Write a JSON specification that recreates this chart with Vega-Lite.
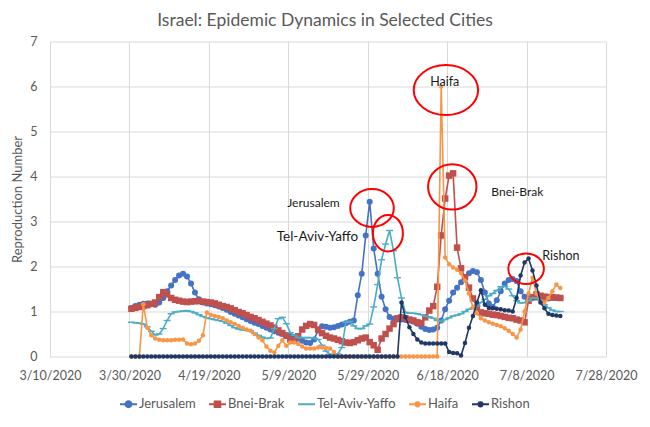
{
  "$schema": "https://vega.github.io/schema/vega-lite/v6.json",
  "width": 556,
  "height": 315,
  "autosize": "none",
  "padding": {"left": 50, "top": 41.5, "right": 44, "bottom": 70.5},
  "background": "white",
  "title": {"text": "Israel: Epidemic Dynamics in Selected Cities", "font": "Lato", "fontSize": 17.5, "fontWeight": "normal", "color": "#595959", "anchor": "middle", "frame": "group", "offset": 6, "dx": -3},
  "datasets": {
    "series": [
      {"d":"2020/03/30 12:00","Jerusalem":1.08,"BneiBrak":1.06,"TelAviv":0.76,"Haifa":0,"Rishon":0},
      {"d":"2020/03/31 12:00","Jerusalem":1.12,"BneiBrak":1.08,"TelAviv":0.75,"Haifa":0,"Rishon":0},
      {"d":"2020/04/01 12:00","Jerusalem":1.15,"BneiBrak":1.1,"TelAviv":0.74,"Haifa":0,"Rishon":0},
      {"d":"2020/04/02 12:00","Jerusalem":1.17,"BneiBrak":1.12,"TelAviv":0.72,"Haifa":1.16,"Rishon":0},
      {"d":"2020/04/03 12:00","Jerusalem":1.18,"BneiBrak":1.14,"TelAviv":0.66,"Haifa":0.64,"Rishon":0},
      {"d":"2020/04/04 12:00","Jerusalem":1.16,"BneiBrak":1.17,"TelAviv":0.56,"Haifa":0.47,"Rishon":0},
      {"d":"2020/04/05 12:00","Jerusalem":1.15,"BneiBrak":1.2,"TelAviv":0.48,"Haifa":0.4,"Rishon":0},
      {"d":"2020/04/06 12:00","Jerusalem":1.2,"BneiBrak":1.32,"TelAviv":0.5,"Haifa":0.37,"Rishon":0},
      {"d":"2020/04/07 12:00","Jerusalem":1.3,"BneiBrak":1.43,"TelAviv":0.62,"Haifa":0.36,"Rishon":0},
      {"d":"2020/04/08 12:00","Jerusalem":1.45,"BneiBrak":1.38,"TelAviv":0.8,"Haifa":0.36,"Rishon":0},
      {"d":"2020/04/09 12:00","Jerusalem":1.58,"BneiBrak":1.3,"TelAviv":0.95,"Haifa":0.36,"Rishon":0},
      {"d":"2020/04/10 12:00","Jerusalem":1.7,"BneiBrak":1.26,"TelAviv":0.99,"Haifa":0.37,"Rishon":0},
      {"d":"2020/04/11 12:00","Jerusalem":1.8,"BneiBrak":1.24,"TelAviv":1.0,"Haifa":0.37,"Rishon":0},
      {"d":"2020/04/12 12:00","Jerusalem":1.84,"BneiBrak":1.22,"TelAviv":1.01,"Haifa":0.38,"Rishon":0},
      {"d":"2020/04/13 12:00","Jerusalem":1.78,"BneiBrak":1.21,"TelAviv":1.02,"Haifa":0.29,"Rishon":0},
      {"d":"2020/04/14 12:00","Jerusalem":1.62,"BneiBrak":1.22,"TelAviv":1.0,"Haifa":0.27,"Rishon":0},
      {"d":"2020/04/15 12:00","Jerusalem":1.42,"BneiBrak":1.23,"TelAviv":0.97,"Haifa":0.29,"Rishon":0},
      {"d":"2020/04/16 12:00","Jerusalem":1.27,"BneiBrak":1.23,"TelAviv":0.93,"Haifa":0.35,"Rishon":0},
      {"d":"2020/04/17 12:00","Jerusalem":1.2,"BneiBrak":1.22,"TelAviv":0.89,"Haifa":0.47,"Rishon":0},
      {"d":"2020/04/18 12:00","Jerusalem":1.18,"BneiBrak":1.21,"TelAviv":0.86,"Haifa":0.98,"Rishon":0},
      {"d":"2020/04/19 12:00","Jerusalem":1.16,"BneiBrak":1.2,"TelAviv":0.84,"Haifa":0.92,"Rishon":0},
      {"d":"2020/04/20 12:00","Jerusalem":1.14,"BneiBrak":1.18,"TelAviv":0.82,"Haifa":0.9,"Rishon":0},
      {"d":"2020/04/21 12:00","Jerusalem":1.11,"BneiBrak":1.15,"TelAviv":0.8,"Haifa":0.88,"Rishon":0},
      {"d":"2020/04/22 12:00","Jerusalem":1.08,"BneiBrak":1.12,"TelAviv":0.78,"Haifa":0.85,"Rishon":0},
      {"d":"2020/04/23 12:00","Jerusalem":1.04,"BneiBrak":1.1,"TelAviv":0.74,"Haifa":0.8,"Rishon":0},
      {"d":"2020/04/24 12:00","Jerusalem":0.99,"BneiBrak":1.07,"TelAviv":0.69,"Haifa":0.76,"Rishon":0},
      {"d":"2020/04/25 12:00","Jerusalem":0.95,"BneiBrak":1.03,"TelAviv":0.64,"Haifa":0.72,"Rishon":0},
      {"d":"2020/04/26 12:00","Jerusalem":0.91,"BneiBrak":0.99,"TelAviv":0.61,"Haifa":0.68,"Rishon":0},
      {"d":"2020/04/27 12:00","Jerusalem":0.87,"BneiBrak":0.96,"TelAviv":0.59,"Haifa":0.64,"Rishon":0},
      {"d":"2020/04/28 12:00","Jerusalem":0.83,"BneiBrak":0.92,"TelAviv":0.58,"Haifa":0.6,"Rishon":0},
      {"d":"2020/04/29 12:00","Jerusalem":0.79,"BneiBrak":0.88,"TelAviv":0.57,"Haifa":0.57,"Rishon":0},
      {"d":"2020/04/30 12:00","Jerusalem":0.75,"BneiBrak":0.85,"TelAviv":0.52,"Haifa":0.5,"Rishon":0},
      {"d":"2020/05/01 12:00","Jerusalem":0.72,"BneiBrak":0.81,"TelAviv":0.47,"Haifa":0.42,"Rishon":0},
      {"d":"2020/05/02 12:00","Jerusalem":0.68,"BneiBrak":0.77,"TelAviv":0.43,"Haifa":0.36,"Rishon":0},
      {"d":"2020/05/03 12:00","Jerusalem":0.64,"BneiBrak":0.73,"TelAviv":0.4,"Haifa":0.22,"Rishon":0},
      {"d":"2020/05/04 12:00","Jerusalem":0.6,"BneiBrak":0.69,"TelAviv":0.41,"Haifa":0.13,"Rishon":0},
      {"d":"2020/05/05 12:00","Jerusalem":0.56,"BneiBrak":0.64,"TelAviv":0.62,"Haifa":0.09,"Rishon":0},
      {"d":"2020/05/06 12:00","Jerusalem":0.53,"BneiBrak":0.58,"TelAviv":0.84,"Haifa":0.24,"Rishon":0},
      {"d":"2020/05/07 12:00","Jerusalem":0.5,"BneiBrak":0.52,"TelAviv":0.87,"Haifa":0.36,"Rishon":0},
      {"d":"2020/05/08 12:00","Jerusalem":0.48,"BneiBrak":0.46,"TelAviv":0.73,"Haifa":0.24,"Rishon":0},
      {"d":"2020/05/09 12:00","Jerusalem":0.46,"BneiBrak":0.38,"TelAviv":0.53,"Haifa":0.31,"Rishon":0},
      {"d":"2020/05/10 12:00","Jerusalem":0.43,"BneiBrak":0.35,"TelAviv":0.47,"Haifa":0.31,"Rishon":0},
      {"d":"2020/05/11 12:00","Jerusalem":0.4,"BneiBrak":0.45,"TelAviv":0.42,"Haifa":0.28,"Rishon":0},
      {"d":"2020/05/12 12:00","Jerusalem":0.35,"BneiBrak":0.6,"TelAviv":0.42,"Haifa":0.22,"Rishon":0},
      {"d":"2020/05/13 12:00","Jerusalem":0.31,"BneiBrak":0.68,"TelAviv":0.42,"Haifa":0.18,"Rishon":0},
      {"d":"2020/05/14 12:00","Jerusalem":0.3,"BneiBrak":0.72,"TelAviv":0.42,"Haifa":0.18,"Rishon":0},
      {"d":"2020/05/15 12:00","Jerusalem":0.38,"BneiBrak":0.7,"TelAviv":0.41,"Haifa":0.18,"Rishon":0},
      {"d":"2020/05/16 12:00","Jerusalem":0.58,"BneiBrak":0.6,"TelAviv":0.38,"Haifa":0.2,"Rishon":0},
      {"d":"2020/05/17 12:00","Jerusalem":0.67,"BneiBrak":0.52,"TelAviv":0.25,"Haifa":0.2,"Rishon":0},
      {"d":"2020/05/18 12:00","Jerusalem":0.66,"BneiBrak":0.46,"TelAviv":0.12,"Haifa":0.19,"Rishon":0},
      {"d":"2020/05/19 12:00","Jerusalem":0.64,"BneiBrak":0.42,"TelAviv":0.05,"Haifa":0.18,"Rishon":0},
      {"d":"2020/05/20 12:00","Jerusalem":0.65,"BneiBrak":0.4,"TelAviv":0.03,"Haifa":0.1,"Rishon":0},
      {"d":"2020/05/21 12:00","Jerusalem":0.68,"BneiBrak":0.37,"TelAviv":0.06,"Haifa":0,"Rishon":0},
      {"d":"2020/05/22 12:00","Jerusalem":0.71,"BneiBrak":0.34,"TelAviv":0.2,"Haifa":0,"Rishon":0},
      {"d":"2020/05/23 12:00","Jerusalem":0.74,"BneiBrak":0.31,"TelAviv":0.76,"Haifa":0,"Rishon":0},
      {"d":"2020/05/24 12:00","Jerusalem":0.77,"BneiBrak":0.3,"TelAviv":0.78,"Haifa":0,"Rishon":0},
      {"d":"2020/05/25 12:00","Jerusalem":0.8,"BneiBrak":0.32,"TelAviv":0.68,"Haifa":0,"Rishon":0},
      {"d":"2020/05/26 12:00","Jerusalem":1.36,"BneiBrak":0.36,"TelAviv":0.62,"Haifa":0,"Rishon":0},
      {"d":"2020/05/27 12:00","Jerusalem":1.84,"BneiBrak":0.4,"TelAviv":0.62,"Haifa":0,"Rishon":0},
      {"d":"2020/05/28 12:00","Jerusalem":2.69,"BneiBrak":0.42,"TelAviv":0.68,"Haifa":0,"Rishon":0},
      {"d":"2020/05/29 12:00","Jerusalem":3.44,"BneiBrak":0.32,"TelAviv":0.72,"Haifa":0,"Rishon":0},
      {"d":"2020/05/30 12:00","Jerusalem":2.4,"BneiBrak":0.25,"TelAviv":1.1,"Haifa":0,"Rishon":0},
      {"d":"2020/05/31 12:00","Jerusalem":1.84,"BneiBrak":0.15,"TelAviv":1.6,"Haifa":0,"Rishon":0},
      {"d":"2020/06/01 12:00","Jerusalem":1.33,"BneiBrak":0.4,"TelAviv":2.15,"Haifa":0,"Rishon":0},
      {"d":"2020/06/02 12:00","Jerusalem":1.05,"BneiBrak":0.5,"TelAviv":2.5,"Haifa":0,"Rishon":0},
      {"d":"2020/06/03 12:00","Jerusalem":0.88,"BneiBrak":0.62,"TelAviv":2.8,"Haifa":0,"Rishon":0},
      {"d":"2020/06/04 12:00","Jerusalem":0.84,"BneiBrak":0.72,"TelAviv":2.35,"Haifa":0,"Rishon":0},
      {"d":"2020/06/05 12:00","Jerusalem":0.82,"BneiBrak":0.85,"TelAviv":1.75,"Haifa":0,"Rishon":0},
      {"d":"2020/06/06 12:00","Jerusalem":0.82,"BneiBrak":0.87,"TelAviv":1.3,"Haifa":0,"Rishon":1.2},
      {"d":"2020/06/07 12:00","Jerusalem":0.81,"BneiBrak":0.85,"TelAviv":0.98,"Haifa":0,"Rishon":0.87},
      {"d":"2020/06/08 12:00","Jerusalem":0.8,"BneiBrak":0.82,"TelAviv":0.96,"Haifa":0,"Rishon":0.65},
      {"d":"2020/06/09 12:00","Jerusalem":0.77,"BneiBrak":0.8,"TelAviv":0.96,"Haifa":0,"Rishon":0.5},
      {"d":"2020/06/10 12:00","Jerusalem":0.73,"BneiBrak":0.76,"TelAviv":0.95,"Haifa":0,"Rishon":0.38},
      {"d":"2020/06/11 12:00","Jerusalem":0.66,"BneiBrak":0.74,"TelAviv":0.93,"Haifa":0,"Rishon":0.31},
      {"d":"2020/06/12 12:00","Jerusalem":0.61,"BneiBrak":0.87,"TelAviv":0.9,"Haifa":0,"Rishon":0.29},
      {"d":"2020/06/13 12:00","Jerusalem":0.59,"BneiBrak":1.02,"TelAviv":0.88,"Haifa":0,"Rishon":0.29},
      {"d":"2020/06/14 12:00","Jerusalem":0.6,"BneiBrak":1.12,"TelAviv":0.85,"Haifa":0,"Rishon":0.29},
      {"d":"2020/06/15 12:00","Jerusalem":0.64,"BneiBrak":1.55,"TelAviv":0.8,"Haifa":0,"Rishon":0.29},
      {"d":"2020/06/16 12:00","Jerusalem":0.8,"BneiBrak":2.69,"TelAviv":0.78,"Haifa":6.0,"Rishon":0.29},
      {"d":"2020/06/17 12:00","Jerusalem":1.05,"BneiBrak":3.51,"TelAviv":0.82,"Haifa":2.2,"Rishon":0.29},
      {"d":"2020/06/18 12:00","Jerusalem":1.24,"BneiBrak":4.02,"TelAviv":0.86,"Haifa":2.05,"Rishon":0.1},
      {"d":"2020/06/19 12:00","Jerusalem":1.42,"BneiBrak":4.07,"TelAviv":0.9,"Haifa":1.98,"Rishon":0.08},
      {"d":"2020/06/20 12:00","Jerusalem":1.53,"BneiBrak":2.42,"TelAviv":0.92,"Haifa":1.93,"Rishon":0.07},
      {"d":"2020/06/21 12:00","Jerusalem":1.65,"BneiBrak":1.96,"TelAviv":0.95,"Haifa":1.85,"Rishon":0.02},
      {"d":"2020/06/22 12:00","Jerusalem":1.76,"BneiBrak":1.76,"TelAviv":1.0,"Haifa":1.69,"Rishon":0.3},
      {"d":"2020/06/23 12:00","Jerusalem":1.85,"BneiBrak":1.53,"TelAviv":1.05,"Haifa":1.4,"Rishon":0.64},
      {"d":"2020/06/24 12:00","Jerusalem":1.9,"BneiBrak":1.29,"TelAviv":1.08,"Haifa":1.09,"Rishon":0.9},
      {"d":"2020/06/25 12:00","Jerusalem":1.87,"BneiBrak":1.09,"TelAviv":1.12,"Haifa":0.96,"Rishon":1.2},
      {"d":"2020/06/26 12:00","Jerusalem":1.7,"BneiBrak":0.98,"TelAviv":1.2,"Haifa":0.85,"Rishon":1.47},
      {"d":"2020/06/27 12:00","Jerusalem":1.42,"BneiBrak":0.96,"TelAviv":1.27,"Haifa":0.8,"Rishon":1.15},
      {"d":"2020/06/28 12:00","Jerusalem":1.18,"BneiBrak":0.95,"TelAviv":1.35,"Haifa":0.76,"Rishon":1.08},
      {"d":"2020/06/29 12:00","Jerusalem":1.1,"BneiBrak":0.93,"TelAviv":1.4,"Haifa":0.73,"Rishon":1.07},
      {"d":"2020/06/30 12:00","Jerusalem":1.25,"BneiBrak":0.92,"TelAviv":1.47,"Haifa":0.7,"Rishon":1.06},
      {"d":"2020/07/01 12:00","Jerusalem":1.45,"BneiBrak":0.9,"TelAviv":1.55,"Haifa":0.67,"Rishon":1.05},
      {"d":"2020/07/02 12:00","Jerusalem":1.62,"BneiBrak":0.88,"TelAviv":1.56,"Haifa":0.63,"Rishon":1.03},
      {"d":"2020/07/03 12:00","Jerusalem":1.7,"BneiBrak":0.86,"TelAviv":1.5,"Haifa":0.57,"Rishon":1.02},
      {"d":"2020/07/04 12:00","Jerusalem":1.72,"BneiBrak":0.85,"TelAviv":1.35,"Haifa":0.5,"Rishon":1.0},
      {"d":"2020/07/05 12:00","Jerusalem":1.68,"BneiBrak":0.82,"TelAviv":1.24,"Haifa":0.42,"Rishon":1.3},
      {"d":"2020/07/06 12:00","Jerusalem":1.45,"BneiBrak":0.8,"TelAviv":1.19,"Haifa":0.6,"Rishon":1.8},
      {"d":"2020/07/07 12:00","Jerusalem":1.33,"BneiBrak":0.76,"TelAviv":1.2,"Haifa":1.0,"Rishon":2.09},
      {"d":"2020/07/08 12:00","Jerusalem":1.3,"BneiBrak":1.24,"TelAviv":1.24,"Haifa":1.4,"Rishon":2.18},
      {"d":"2020/07/09 12:00","Jerusalem":1.3,"BneiBrak":1.32,"TelAviv":1.3,"Haifa":1.75,"Rishon":1.91},
      {"d":"2020/07/10 12:00","Jerusalem":1.31,"BneiBrak":1.38,"TelAviv":1.3,"Haifa":1.4,"Rishon":1.58},
      {"d":"2020/07/11 12:00","Jerusalem":1.3,"BneiBrak":1.35,"TelAviv":1.25,"Haifa":1.22,"Rishon":1.2},
      {"d":"2020/07/12 12:00","Jerusalem":1.3,"BneiBrak":1.33,"TelAviv":1.15,"Haifa":1.2,"Rishon":1.07},
      {"d":"2020/07/13 12:00","Jerusalem":1.29,"BneiBrak":1.32,"TelAviv":1.08,"Haifa":1.3,"Rishon":0.95},
      {"d":"2020/07/14 12:00","Jerusalem":1.3,"BneiBrak":1.32,"TelAviv":1.03,"Haifa":1.45,"Rishon":0.92},
      {"d":"2020/07/15 12:00","Jerusalem":1.3,"BneiBrak":1.31,"TelAviv":1.0,"Haifa":1.6,"Rishon":0.91},
      {"d":"2020/07/16 12:00","Jerusalem":1.3,"BneiBrak":1.3,"TelAviv":1.0,"Haifa":1.52,"Rishon":0.9}
    ],
    "notes": [
      {"kind":"ring","city":"Jerusalem","d":"2020/05/30 02:00","v":3.3},
      {"kind":"ring","city":"Tel-Aviv-Yaffo","d":"2020/06/03 02:00","v":2.74},
      {"kind":"ring","city":"Haifa","d":"2020/06/17 16:30","v":5.92},
      {"kind":"ring","city":"Bnei-Brak","d":"2020/06/19 07:00","v":3.77},
      {"kind":"ring","city":"Rishon","d":"2020/07/07 21:00","v":1.95},
      {"kind":"label","city":"Jerusalem","d":"2020/05/15 08:00","v":3.41},
      {"kind":"label","city":"Tel-Aviv-Yaffo","d":"2020/05/16 08:30","v":2.66},
      {"kind":"label","city":"Haifa","d":"2020/06/17 09:30","v":6.1},
      {"kind":"label","city":"Bnei-Brak","d":"2020/07/05 16:00","v":3.66},
      {"kind":"label","city":"Rishon","d":"2020/07/16 15:30","v":2.23}
    ],
    "cities": [
      {"city":"Jerusalem"},{"city":"Bnei-Brak"},{"city":"Tel-Aviv-Yaffo"},{"city":"Haifa"},{"city":"Rishon"}
    ]
  },
  "data": {"name": "series"},
  "encoding": {
    "x": {
      "field": "d", "type": "temporal", "title": null,
      "scale": {"domain": [{"year": 2020, "month": 3, "date": 10}, {"year": 2020, "month": 7, "date": 28}]},
      "axis": {
        "values": [
          {"year": 2020, "month": 3, "date": 10}, {"year": 2020, "month": 3, "date": 30},
          {"year": 2020, "month": 4, "date": 19}, {"year": 2020, "month": 5, "date": 9},
          {"year": 2020, "month": 5, "date": 29}, {"year": 2020, "month": 6, "date": 18},
          {"year": 2020, "month": 7, "date": 8}, {"year": 2020, "month": 7, "date": 28}
        ],
        "format": "%-m/%-d/%Y"
      }
    }
  },
  "layer": [
    {
      "mark": {"type": "line", "color": "#4472C4", "strokeWidth": 1.6, "point": {"filled": true, "shape": "circle", "size": 36, "color": "#4472C4", "opacity": 1}},
      "encoding": {"y": {"field": "Jerusalem", "type": "quantitative", "title": "Reproduction Number", "scale": {"domain": [0, 7], "nice": false}, "axis": {"values": [0, 1, 2, 3, 4, 5, 6, 7]}}}
    },
    {
      "mark": {"type": "line", "color": "#C0504D", "strokeWidth": 1.6, "point": {"filled": true, "shape": "square", "size": 42, "color": "#C0504D", "opacity": 1}},
      "encoding": {"y": {"field": "BneiBrak", "type": "quantitative", "title": "Reproduction Number", "scale": {"domain": [0, 7], "nice": false}, "axis": {"values": [0, 1, 2, 3, 4, 5, 6, 7]}}}
    },
    {
      "mark": {"type": "line", "color": "#4BACC6", "strokeWidth": 1.6, "point": {"filled": true, "shape": "M-1,-0.2H1V0.2H-1Z", "size": 49, "color": "#4BACC6", "opacity": 1}},
      "encoding": {"y": {"field": "TelAviv", "type": "quantitative", "title": "Reproduction Number", "scale": {"domain": [0, 7], "nice": false}, "axis": {"values": [0, 1, 2, 3, 4, 5, 6, 7]}}}
    },
    {
      "mark": {"type": "line", "color": "#F79646", "strokeWidth": 1.6, "point": {"filled": true, "shape": "circle", "size": 20, "color": "#F79646", "opacity": 1}},
      "encoding": {"y": {"field": "Haifa", "type": "quantitative", "title": "Reproduction Number", "scale": {"domain": [0, 7], "nice": false}, "axis": {"values": [0, 1, 2, 3, 4, 5, 6, 7]}}}
    },
    {
      "mark": {"type": "line", "color": "#203864", "strokeWidth": 1.6, "point": {"filled": true, "shape": "circle", "size": 20, "color": "#203864", "opacity": 1}},
      "encoding": {"y": {"field": "Rishon", "type": "quantitative", "title": "Reproduction Number", "scale": {"domain": [0, 7], "nice": false}, "axis": {"values": [0, 1, 2, 3, 4, 5, 6, 7]}}}
    },
    {
      "data": {"name": "notes"},
      "transform": [{"filter": "datum.kind === 'ring' && datum.city === 'Jerusalem'"}],
      "mark": {"type": "point", "filled": false, "opacity": 1, "stroke": "#FF0000", "strokeWidth": 2, "size": 1901, "shape": "M-1,0C-1,-0.479 -0.552,-0.867 0,-0.867C0.552,-0.867 1,-0.479 1,0C1,0.479 0.552,0.867 0,0.867C-0.552,0.867 -1,0.479 -1,0Z"},
      "encoding": {"y": {"field": "v", "type": "quantitative", "title": "Reproduction Number", "scale": {"domain": [0, 7], "nice": false}}}
    },
    {
      "data": {"name": "notes"},
      "transform": [{"filter": "datum.kind === 'ring' && datum.city === 'Tel-Aviv-Yaffo'"}],
      "mark": {"type": "point", "filled": false, "opacity": 1, "stroke": "#FF0000", "strokeWidth": 2, "size": 900, "shape": "M-1,0C-1,-0.674 -0.552,-1.22 0,-1.22C0.552,-1.22 1,-0.674 1,0C1,0.674 0.552,1.22 0,1.22C-0.552,1.22 -1,0.674 -1,0Z"},
      "encoding": {"y": {"field": "v", "type": "quantitative", "title": "Reproduction Number", "scale": {"domain": [0, 7], "nice": false}}}
    },
    {
      "data": {"name": "notes"},
      "transform": [{"filter": "datum.kind === 'ring' && datum.city === 'Haifa'"}],
      "mark": {"type": "point", "filled": false, "opacity": 1, "stroke": "#FF0000", "strokeWidth": 2, "size": 4147, "shape": "M-1,0C-1,-0.429 -0.552,-0.776 0,-0.776C0.552,-0.776 1,-0.429 1,0C1,0.429 0.552,0.776 0,0.776C-0.552,0.776 -1,0.429 -1,0Z"},
      "encoding": {"y": {"field": "v", "type": "quantitative", "title": "Reproduction Number", "scale": {"domain": [0, 7], "nice": false}}}
    },
    {
      "data": {"name": "notes"},
      "transform": [{"filter": "datum.kind === 'ring' && datum.city === 'Bnei-Brak'"}],
      "mark": {"type": "point", "filled": false, "opacity": 1, "stroke": "#FF0000", "strokeWidth": 2, "size": 2343, "shape": "M-1,0C-1,-0.518 -0.552,-0.938 0,-0.938C0.552,-0.938 1,-0.518 1,0C1,0.518 0.552,0.938 0,0.938C-0.552,0.938 -1,0.518 -1,0Z"},
      "encoding": {"y": {"field": "v", "type": "quantitative", "title": "Reproduction Number", "scale": {"domain": [0, 7], "nice": false}}}
    },
    {
      "data": {"name": "notes"},
      "transform": [{"filter": "datum.kind === 'ring' && datum.city === 'Rishon'"}],
      "mark": {"type": "point", "filled": false, "opacity": 1, "stroke": "#FF0000", "strokeWidth": 2, "size": 1267, "shape": "M-1,0C-1,-0.475 -0.552,-0.86 0,-0.86C0.552,-0.86 1,-0.475 1,0C1,0.475 0.552,0.86 0,0.86C-0.552,0.86 -1,0.475 -1,0Z"},
      "encoding": {"y": {"field": "v", "type": "quantitative", "title": "Reproduction Number", "scale": {"domain": [0, 7], "nice": false}}}
    },
    {
      "data": {"name": "notes"},
      "transform": [{"filter": "datum.kind === 'label' && (datum.city === 'Jerusalem' || datum.city === 'Bnei-Brak')"}],
      "mark": {"type": "text", "font": "Lato", "fontSize": 12, "color": "#1a1a1a", "align": "center", "baseline": "middle"},
      "encoding": {"y": {"field": "v", "type": "quantitative", "title": "Reproduction Number", "scale": {"domain": [0, 7], "nice": false}}, "text": {"field": "city"}}
    },
    {
      "data": {"name": "notes"},
      "transform": [{"filter": "datum.kind === 'label' && (datum.city === 'Haifa' || datum.city === 'Rishon')"}],
      "mark": {"type": "text", "font": "Lato", "fontSize": 12.5, "color": "#1a1a1a", "align": "center", "baseline": "middle"},
      "encoding": {"y": {"field": "v", "type": "quantitative", "title": "Reproduction Number", "scale": {"domain": [0, 7], "nice": false}}, "text": {"field": "city"}}
    },
    {
      "data": {"name": "notes"},
      "transform": [{"filter": "datum.kind === 'label' && datum.city === 'Tel-Aviv-Yaffo'"}],
      "mark": {"type": "text", "font": "Lato", "fontSize": 13.5, "color": "#1a1a1a", "align": "center", "baseline": "middle"},
      "encoding": {"y": {"field": "v", "type": "quantitative", "title": "Reproduction Number", "scale": {"domain": [0, 7], "nice": false}}, "text": {"field": "city"}}
    },
    {
      "data": {"name": "cities"},
      "mark": {"type": "point", "opacity": 0, "filled": true},
      "encoding": {
        "fill": {"field": "city", "type": "nominal",
          "scale": {"domain": ["Jerusalem", "Bnei-Brak", "Tel-Aviv-Yaffo", "Haifa", "Rishon"], "range": ["#4472C4", "#C0504D", "#4BACC6", "#F79646", "#203864"]},
          "legend": {"orient": "none", "legendX": 69, "legendY": 353, "direction": "horizontal", "title": null}},
        "stroke": {"field": "city", "type": "nominal",
          "scale": {"domain": ["Jerusalem", "Bnei-Brak", "Tel-Aviv-Yaffo", "Haifa", "Rishon"], "range": ["#4472C4", "#C0504D", "#4BACC6", "#F79646", "#203864"]},
          "legend": {"orient": "none", "legendX": 69, "legendY": 353, "direction": "horizontal", "title": null}},
        "shape": {"field": "city", "type": "nominal",
          "scale": {"domain": ["Jerusalem", "Bnei-Brak", "Tel-Aviv-Yaffo", "Haifa", "Rishon"], "range": [
            "M-1,0H1M-0.35,0C-0.35,-0.194 -0.194,-0.35 0,-0.35C0.194,-0.35 0.35,-0.194 0.35,0C0.35,0.194 0.194,0.35 0,0.35C-0.194,0.35 -0.35,0.194 -0.35,0Z",
            "M-1,0H1M-0.33,-0.33H0.33V0.33H-0.33Z",
            "M-1,0H1",
            "M-1,0H1M-0.25,0C-0.25,-0.138 -0.138,-0.25 0,-0.25C0.138,-0.25 0.25,-0.138 0.25,0C0.25,0.138 0.138,0.25 0,0.25C-0.138,0.25 -0.25,0.138 -0.25,0Z",
            "M-1,0H1M-0.25,0C-0.25,-0.138 -0.138,-0.25 0,-0.25C0.138,-0.25 0.25,-0.138 0.25,0C0.25,0.138 0.138,0.25 0,0.25C-0.138,0.25 -0.25,0.138 -0.25,0Z"
          ]},
          "legend": {"orient": "none", "legendX": 69, "legendY": 353, "direction": "horizontal", "title": null}}
      }
    }
  ],
  "config": {
    "font": "Lato",
    "view": {"stroke": null},
    "axis": {"domain": false, "ticks": false, "grid": true, "gridColor": "#D9D9D9", "gridWidth": 1, "labelFont": "Lato", "labelFontSize": 12.5, "labelColor": "#595959", "titleFont": "Lato", "titleFontSize": 13, "titleFontWeight": "normal", "titleColor": "#595959"},
    "axisX": {"labelPadding": 13, "labelFlush": false, "labelOverlap": false},
    "axisY": {"labelPadding": 13, "titlePadding": 5},
    "legend": {"labelFont": "Lato", "labelFontSize": 13, "labelColor": "#595959", "symbolSize": 289, "symbolStrokeWidth": 2, "symbolOpacity": 1, "columnPadding": 9, "labelOffset": 1, "padding": 0, "rowPadding": 0}
  }
}
